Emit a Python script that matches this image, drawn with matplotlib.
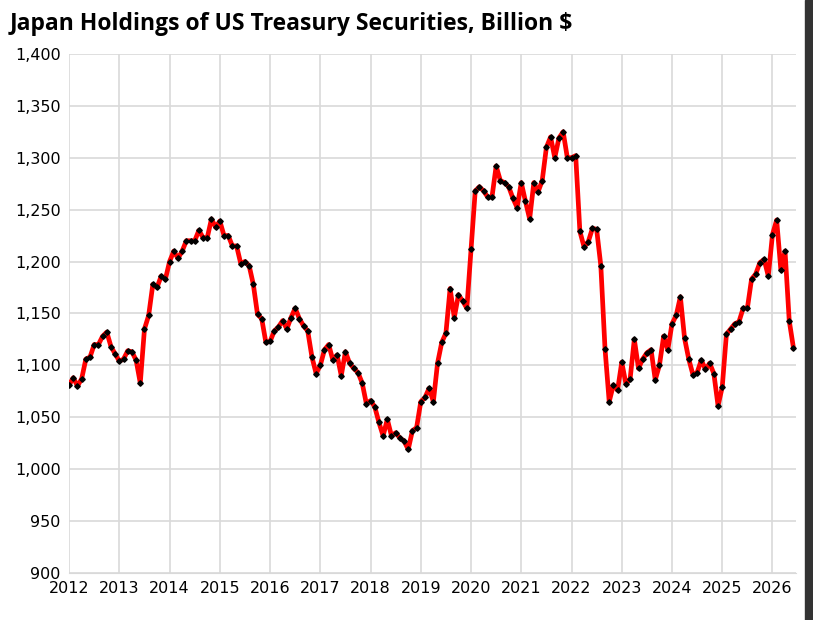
import matplotlib
matplotlib.use("Agg")
import matplotlib.pyplot as plt
from matplotlib.ticker import FuncFormatter

# Monthly holdings, billion $, starting Jan 2012
HOLDINGS = [
    1081, 1088, 1080, 1087, 1106, 1108, 1120, 1120, 1128, 1132, 1118, 1111,
    1104, 1106, 1114, 1113, 1105, 1083, 1135, 1148, 1178, 1175, 1186, 1183,
    1200, 1210, 1203, 1210, 1220, 1220, 1220, 1230, 1223, 1223, 1241, 1233,
    1239, 1225, 1225, 1215, 1215, 1198, 1200, 1196, 1178, 1149, 1145, 1122,
    1123, 1133, 1137, 1143, 1135, 1146, 1155, 1145, 1138, 1133, 1108, 1092,
    1100, 1115, 1120, 1105, 1110, 1090, 1113, 1102, 1097, 1093, 1083, 1063,
    1066, 1060, 1045, 1032, 1048, 1032, 1035, 1030, 1027, 1019, 1037, 1040,
    1065, 1069, 1078, 1065, 1102, 1122, 1131, 1174, 1146, 1168, 1162, 1155,
    1212, 1268, 1272, 1268, 1262, 1262, 1292, 1278, 1276, 1272, 1261, 1252,
    1276, 1258, 1241, 1276, 1267, 1278, 1310, 1320, 1300, 1319, 1325, 1300,
    1300, 1302, 1229, 1214, 1219, 1232, 1231, 1196, 1116, 1065, 1081, 1076,
    1103, 1082, 1087, 1125, 1097, 1106, 1112, 1115, 1086, 1100, 1128, 1115,
    1140, 1148, 1166, 1126, 1106, 1091, 1093, 1105, 1096, 1102, 1092, 1061,
    1079, 1130, 1135, 1140, 1142, 1155, 1155, 1183, 1188, 1199, 1202, 1186,
    1226, 1240, 1192, 1210, 1143, 1117,
]
YEARS = list(range(2012, 2027))
YTICKS = list(range(900, 1401, 50))

dates = [2012 + i / 12.0 for i in range(len(HOLDINGS))]

fig = plt.figure(figsize=(8.13, 6.2), dpi=100)
ax = fig.add_axes([0.085, 0.076, 0.894, 0.837])
ax.plot(dates, HOLDINGS, color="#ff0000", linewidth=3.4, zorder=3)
ax.plot(dates, HOLDINGS, linestyle="None", marker="D", markersize=2.8,
        color="black", zorder=4)

ax.set_xlim(2012, dates[-1] + 0.05)
ax.set_ylim(900, 1400)
ax.set_xticks(YEARS)
ax.set_yticks(YTICKS)
ax.yaxis.set_major_formatter(FuncFormatter(lambda v, p: "{:,.0f}".format(v)))
ax.grid(True, color="#d9d9d9", linewidth=1.2)
ax.set_axisbelow(True)
for side in ("top", "right", "left"):
    ax.spines[side].set_visible(False)
ax.spines["bottom"].set_color("#d9d9d9")
ax.tick_params(length=0, labelsize=11.5, pad=6)

fig.text(0.012, 0.962, "Japan Holdings of US Treasury Securities, Billion $",
         fontsize=16.5, fontweight="bold", va="center", family="Open Sans")
fig.patches.append(plt.Rectangle((0.99, 0), 0.01, 1, transform=fig.transFigure,
                                 color="#333333", figure=fig))

fig.savefig("out.png", dpi=100)
